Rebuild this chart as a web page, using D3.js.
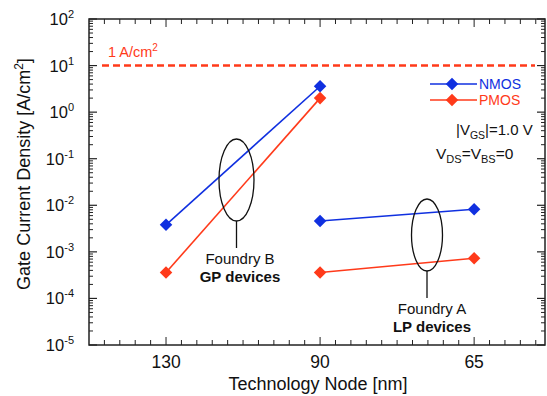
<!DOCTYPE html>
<html>
<head>
<meta charset="utf-8">
<script src="https://cdn.jsdelivr.net/npm/d3@7"></script>
<style>
  body { margin: 0; background: #fff; }
  text { font-family: "Liberation Sans", Arial, sans-serif; }
</style>
</head>
<body>
<div id="chart"></div>
<script>
const nodes = ["130", "90", "65"];
const yTicks = [-5, -4, -3, -2, -1, 0, 1, 2];
// Foundry B, GP devices (130 and 90 nm)
const gpNodes = ["130", "90"];
const gpNmos = [3.8e-3, 3.6];
const gpPmos = [3.6e-4, 2.0];
// Foundry A, LP devices (90 and 65 nm)
const lpNodes = ["90", "65"];
const lpNmos = [4.6e-3, 8.2e-3];
const lpPmos = [3.6e-4, 7.3e-4];
const limitValue = 10; // 1 A/cm2 line

const W = 547, H = 396;
const pLeft = 89, pRight = 545, pTop = 19, pBottom = 345;
const blue = "#1030e0", red = "#ff3a1a";

const svg = d3.select("#chart").append("svg")
  .attr("width", W).attr("height", H);

const x = d3.scaleLinear().domain([-0.5, 2.46]).range([pLeft, pRight]);
const xi = d => x(nodes.indexOf(d));
const y = d3.scaleLog().domain([1e-5, 1e2]).range([pBottom, pTop]);

// frame
svg.append("rect")
  .attr("x", pLeft).attr("y", pTop)
  .attr("width", pRight - pLeft).attr("height", pBottom - pTop)
  .attr("fill", "none").attr("stroke", "#222").attr("stroke-width", 1.5);

// x ticks (bottom and top, inward)
const xMinor = d3.range(-5, 25).map(d => d / 10).filter(d => x(d) > pLeft + 1 && x(d) < pRight - 1);
xMinor.forEach(function(d) {
  const major = Math.abs(d - Math.round(d)) < 1e-6;
  const len = major ? 8 : 5;
  svg.append("line").attr("x1", x(d)).attr("x2", x(d))
    .attr("y1", pBottom).attr("y2", pBottom - len)
    .attr("stroke", "#222").attr("stroke-width", 1);
  svg.append("line").attr("x1", x(d)).attr("x2", x(d))
    .attr("y1", pTop).attr("y2", pTop + len)
    .attr("stroke", "#222").attr("stroke-width", 1);
});

// y ticks (left and right, inward)
const yMinor = [];
for (let e = -5; e < 2; e++) {
  for (let m = 2; m < 10; m++) yMinor.push(m * Math.pow(10, e));
}
yMinor.forEach(function(v) {
  [[pLeft, 1], [pRight, -1]].forEach(function(s) {
    svg.append("line").attr("x1", s[0]).attr("x2", s[0] + s[1] * 4)
      .attr("y1", y(v)).attr("y2", y(v))
      .attr("stroke", "#222").attr("stroke-width", 1);
  });
});
yTicks.forEach(function(e) {
  [[pLeft, 1], [pRight, -1]].forEach(function(s) {
    svg.append("line").attr("x1", s[0]).attr("x2", s[0] + s[1] * 8)
      .attr("y1", y(Math.pow(10, e))).attr("y2", y(Math.pow(10, e)))
      .attr("stroke", "#222").attr("stroke-width", 1.2);
  });
  const t = svg.append("text")
    .attr("x", 74).attr("y", y(Math.pow(10, e)) + 6)
    .attr("text-anchor", "end").attr("font-size", 16.5).attr("fill", "#111");
  t.append("tspan").text("10");
  t.append("tspan").attr("dy", -7).attr("font-size", 11).text(e);
});

// x tick labels
nodes.forEach(function(n) {
  svg.append("text").attr("x", xi(n)).attr("y", 368)
    .attr("text-anchor", "middle").attr("font-size", 17.5).attr("fill", "#111").text(n);
});

// axis titles
svg.append("text").attr("x", 318).attr("y", 390)
  .attr("text-anchor", "middle").attr("font-size", 18).attr("fill", "#111")
  .text("Technology Node [nm]");
const yt = svg.append("text")
  .attr("transform", "translate(30," + 174 + ") rotate(-90)")
  .attr("text-anchor", "middle").attr("font-size", 18).attr("fill", "#111");
yt.append("tspan").text("Gate Current Density [A/cm");
yt.append("tspan").attr("dy", -7).attr("font-size", 12).text("2");
yt.append("tspan").attr("dy", 7).text("]");

// 1 A/cm2 limit
svg.append("line")
  .attr("x1", 102).attr("x2", 535)
  .attr("y1", y(limitValue)).attr("y2", y(limitValue))
  .attr("stroke", red).attr("stroke-width", 2.5).attr("stroke-dasharray", "7,4");
const lt = svg.append("text").attr("x", 108).attr("y", 57)
  .attr("font-size", 14.5).attr("fill", red);
lt.append("tspan").text("1 A/cm");
lt.append("tspan").attr("dy", -6).attr("font-size", 10).text("2");

// series
const diamond = d3.symbol().type(d3.symbolDiamond2).size(100);
function series(cats, vals, color) {
  const pts = cats.map((c, i) => [xi(c), y(vals[i])]);
  svg.append("path").attr("d", d3.line()(pts))
    .attr("fill", "none").attr("stroke", color).attr("stroke-width", 1.6);
  svg.selectAll(null).data(pts).enter().append("path")
    .attr("d", diamond)
    .attr("transform", d => "translate(" + d[0] + "," + d[1] + ")")
    .attr("fill", color);
}
series(gpNodes, gpNmos, blue);
series(gpNodes, gpPmos, red);
series(lpNodes, lpNmos, blue);
series(lpNodes, lpPmos, red);

// annotations: ellipses with leader lines
function group(cx, cy, rx, ry, lineEnd, tx, l1, l2) {
  svg.append("ellipse").attr("cx", cx).attr("cy", cy).attr("rx", rx).attr("ry", ry)
    .attr("fill", "none").attr("stroke", "#111").attr("stroke-width", 1.3);
  svg.append("line").attr("x1", cx).attr("x2", cx)
    .attr("y1", cy + ry).attr("y2", lineEnd)
    .attr("stroke", "#111").attr("stroke-width", 1.3);
  svg.append("text").attr("x", tx).attr("y", lineEnd + 16)
    .attr("text-anchor", "middle").attr("font-size", 15).attr("fill", "#111").text(l1);
  svg.append("text").attr("x", tx).attr("y", lineEnd + 34)
    .attr("text-anchor", "middle").attr("font-size", 15).attr("font-weight", "bold")
    .attr("fill", "#111").text(l2);
}
group(236.5, 180, 17.5, 41, 248, 240, "Foundry B", "GP devices");
group(427, 235, 15.5, 36, 298, 432, "Foundry A", "LP devices");

// legend
const legend = [["NMOS", blue, 84], ["PMOS", red, 100]];
legend.forEach(function(l) {
  svg.append("line").attr("x1", 430).attr("x2", 477).attr("y1", l[2]).attr("y2", l[2])
    .attr("stroke", l[1]).attr("stroke-width", 1.6);
  svg.append("path").attr("d", diamond)
    .attr("transform", "translate(452," + l[2] + ")").attr("fill", l[1]);
  svg.append("text").attr("x", 479).attr("y", l[2] + 5)
    .attr("font-size", 14).attr("fill", l[1]).text(l[0]);
});

// bias conditions
const b1 = svg.append("text").attr("x", 456).attr("y", 135)
  .attr("font-size", 15).attr("fill", "#111");
b1.append("tspan").text("|V");
b1.append("tspan").attr("dy", 4).attr("font-size", 10.5).text("GS");
b1.append("tspan").attr("dy", -4).text("|=1.0 V");
const b2 = svg.append("text").attr("x", 436).attr("y", 159)
  .attr("font-size", 15.5).attr("fill", "#111");
b2.append("tspan").text("V");
b2.append("tspan").attr("dy", 4).attr("font-size", 11).text("DS");
b2.append("tspan").attr("dy", -4).text("=V");
b2.append("tspan").attr("dy", 4).attr("font-size", 11).text("BS");
b2.append("tspan").attr("dy", -4).text("=0");
</script>
</body>
</html>
